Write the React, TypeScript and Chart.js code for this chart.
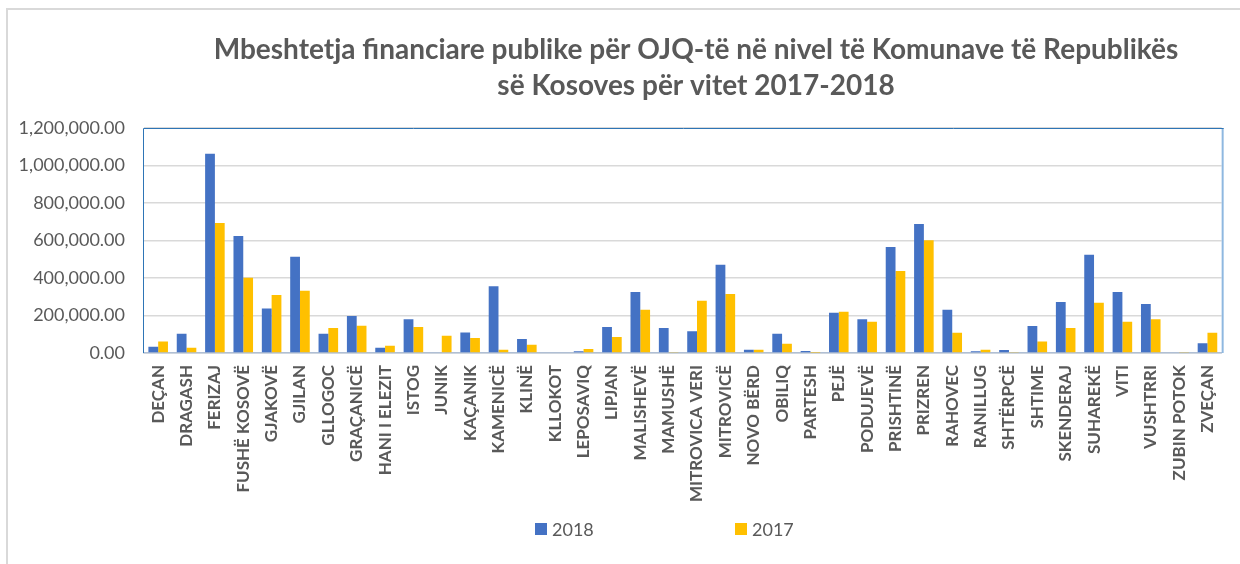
import React, { useEffect, useRef } from 'react';
import { Chart, registerables } from 'chart.js';

Chart.register(...registerables);

const TITLE_LINES = [
  'Mbeshtetja financiare publike për OJQ-të në nivel të Komunave të Republikës',
  'së Kosoves për vitet 2017-2018',
];

const CATEGORIES = [
  'DEÇAN', 'DRAGASH', 'FERIZAJ', 'FUSHË KOSOVË', 'GJAKOVË', 'GJILAN', 'GLLOGOC', 'GRAÇANICË',
  'HANI I ELEZIT', 'ISTOG', 'JUNIK', 'KAÇANIK', 'KAMENICË', 'KLINË', 'KLLOKOT', 'LEPOSAVIQ',
  'LIPJAN', 'MALISHEVË', 'MAMUSHË', 'MITROVICA VERI', 'MITROVICË', 'NOVO BËRD', 'OBILIQ',
  'PARTESH', 'PEJË', 'PODUJEVË', 'PRISHTINË', 'PRIZREN', 'RAHOVEC', 'RANILLUG', 'SHTËRPCË',
  'SHTIME', 'SKENDERAJ', 'SUHAREKË', 'VITI', 'VUSHTRRI', 'ZUBIN POTOK', 'ZVEÇAN',
];

const SERIES_LABELS = ['2018', '2017'];

const VALUES_2018 = [
  34000, 103000, 1063000, 624000, 238000, 514000, 103000, 197000,
  28000, 180000, 4000, 110000, 356000, 75000, 4000, 10000,
  139000, 325000, 133000, 116000, 471000, 18000, 103000,
  11000, 215000, 180000, 565000, 688000, 231000, 10000, 16000,
  144000, 272000, 524000, 325000, 261000, 0, 52000,
];

const VALUES_2017 = [
  62000, 28000, 693000, 402000, 309000, 332000, 133000, 146000,
  39000, 139000, 92000, 80000, 18000, 44000, 0, 21000,
  85000, 231000, 3000, 279000, 315000, 18000, 50000,
  2000, 220000, 167000, 437000, 601000, 108000, 18000, 3000,
  62000, 133000, 268000, 167000, 180000, 3000, 108000,
];

const Y_MIN = 0;
const Y_MAX = 1200000;
const Y_STEP = 200000;

const COLORS = ['#4472C4', '#FFC000'];
const TEXT = '#595959';

const titleShift = {
  id: 'titleShift',
  afterLayout(chart: any) {
    const t = chart.titleBlock;
    if (t) {
      t.left += 81;
      t.right += 81;
    }
  },
};

const plotFrame = {
  id: 'plotFrame',
  afterDraw(chart: any) {
    const { ctx, chartArea: a } = chart;
    ctx.save();
    ctx.strokeStyle = '#8fb8e0';
    ctx.lineWidth = 2;
    ctx.beginPath();
    ctx.moveTo(a.right + 1, a.top);
    ctx.lineTo(a.right + 1, a.bottom);
    ctx.stroke();
    ctx.strokeStyle = '#2e75b6';
    ctx.lineWidth = 1;
    ctx.beginPath();
    ctx.moveTo(a.left - 0.5, a.bottom);
    ctx.lineTo(a.left - 0.5, a.top + 0.5);
    ctx.lineTo(a.right + 2, a.top + 0.5);
    ctx.stroke();
    ctx.restore();
  },
};

const customLegend = {
  id: 'customLegend',
  afterDraw(chart: any) {
    const { ctx } = chart;
    const xs = [535, 735];
    const y = 529;
    ctx.save();
    chart.data.datasets.forEach((ds: any, i: number) => {
      ctx.fillStyle = ds.backgroundColor;
      ctx.fillRect(xs[i], y - 6, 12, 12);
      ctx.fillStyle = TEXT;
      ctx.font = '18px Lato';
      ctx.textBaseline = 'middle';
      ctx.textAlign = 'left';
      ctx.fillText(ds.label, xs[i] + 17, y + 1);
    });
    ctx.restore();
  },
};

export default function App() {
  const canvasRef = useRef<HTMLCanvasElement | null>(null);

  useEffect(() => {
    if (!canvasRef.current) return;
    const chart = new Chart(canvasRef.current, {
      type: 'bar',
      data: {
        labels: CATEGORIES,
        datasets: [
          { label: SERIES_LABELS[0], data: VALUES_2018, backgroundColor: COLORS[0] },
          { label: SERIES_LABELS[1], data: VALUES_2017, backgroundColor: COLORS[1] },
        ],
      },
      options: {
        responsive: false,
        animation: false,
        devicePixelRatio: 1,
        layout: { padding: { left: 0, right: 10, top: 0, bottom: 0 } },
        datasets: { bar: { categoryPercentage: 0.69, barPercentage: 1 } },
        plugins: {
          legend: { display: false },
          tooltip: { enabled: false },
          title: {
            display: true,
            text: TITLE_LINES,
            color: TEXT,
            font: { family: 'Lato', size: 28, weight: 'bold', lineHeight: 36 / 28 },
            padding: { top: 32, bottom: 24 },
          },
        },
        scales: {
          x: {
            grid: { display: false, drawTicks: false },
            border: { color: '#b0bfd4', width: 1.5 },
            ticks: {
              autoSkip: false,
              maxRotation: 90,
              minRotation: 90,
              padding: 12,
              color: TEXT,
              font: { family: 'Lato', size: 17, weight: 'bold' },
            },
            afterFit: (s: any) => {
              s.height = 211;
            },
          },
          y: {
            min: Y_MIN,
            max: Y_MAX,
            ticks: {
              stepSize: Y_STEP,
              padding: 19,
              color: TEXT,
              font: { family: 'Lato', size: 18 },
              callback: (v: any) =>
                Number(v).toLocaleString('en-US', { minimumFractionDigits: 2, maximumFractionDigits: 2 }),
            },
            grid: { color: '#d9d9d9', lineWidth: 1.5, drawTicks: false },
            border: { display: false },
            afterFit: (s: any) => {
              s.width = 144;
            },
          },
        },
      },
      plugins: [titleShift, plotFrame, customLegend],
    });
    return () => chart.destroy();
  }, []);

  return (
    <div style={{ position: 'fixed', left: 0, top: 0, width: 1240, height: 564, background: '#fff', overflow: 'hidden' }}>
      <div
        style={{
          position: 'absolute',
          left: 6,
          top: 8,
          width: 1300,
          height: 600,
          border: '2px solid #d9d9d9',
          boxSizing: 'border-box',
        }}
      />
      <canvas
        ref={canvasRef}
        width={1240}
        height={564}
        style={{ position: 'absolute', left: 0, top: 0, display: 'block' }}
      />
    </div>
  );
}
